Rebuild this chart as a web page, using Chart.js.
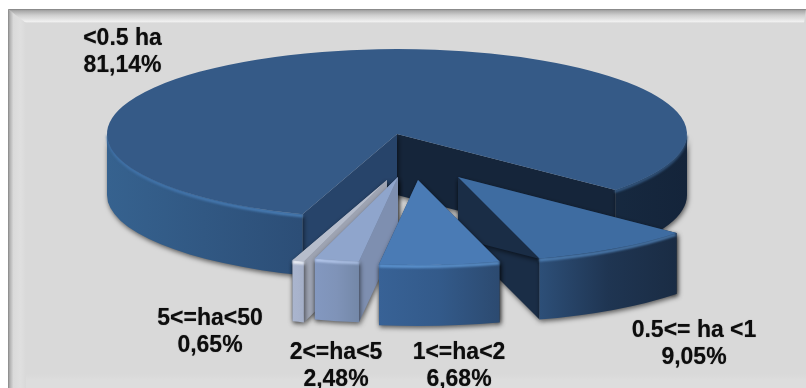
<!doctype html>
<html lang="en">

<head>
  <meta charset="utf-8">
  <title>Farms by size</title>
  <script src="https://cdn.jsdelivr.net/npm/chart.js"></script>
  <style>
    html, body { margin: 0; background: #fff; }
    canvas { display: block; }
  </style>
</head>

<body>
  <canvas id="pieChart" width="806" height="388" role="img" aria-label="Exploded 3D pie chart of holdings by size class"></canvas>

  <script>
    // === DATA ===
    const categories = ["<0.5 ha", "0.5<= ha <1", "1<=ha<2", "2<=ha<5", "5<=ha<50"];
    const shares = [81.14, 9.05, 6.68, 2.48, 0.65];

    // === STYLE: colours per slice ===
    const topColors = ["#355a87", "#3e6ca1", "#4a7bb5", "#8fa5cc", "#b6bdcc"];
    const rimColors = [["#36628f", "#2c4e77", "#1a3048", "#14243a"], ["#2d4f78", "#1f3552", "#1a2c44"], ["#386296", "#335a8a", "#2c4a70"], ["#8398c0", "#7f93b8", "#7488a8"], ["#aab5ce", "#a8b3cc", "#a4afc8"]];
    const bevelColors = [["#3f70a6", "#5088c2", "#2f4f75"], ["#4f80b5", "#4a78aa"], ["#5f98d6", "#5a8fc8"], ["#b9ccf0", "#a8bce0"], ["#ffffff", "#e8ecf4"]];
    const startWallColors = ["#27446a", "#1a2d46", "#2c4a70", "#7e8fb0", "#9ea4b3"];
    const endWallColors = ["#15253a", "#1a2d46", "#2c4a70", "#7e8fb0", "#9ea4b3"];

    // === STYLE: 3D projection ===
    const centerX = 397, centerY = 134;
    const radiusX = 290, radiusY = 85;
    const depth = 61;
    const explode = [[0, 0], [61, 43], [21, 46], [1, 43], [-10, 46]];
    const drawOrder = [0, 1, 4, 3, 2];
    const labelSpots = [[122.5, 45], [694, 337], [459, 359], [336, 359], [210, 325]];
    const lineGap = 27;

    function formatShare(value) {
      return value.toFixed(2).replace(".", ",") + "%";
    }

    // Panel behind the pie, with the bevelled top and left edges
    function drawPanel(ctx) {
      const w = 806, h = 388, left = 8, top = 9;
      ctx.fillStyle = "#ffffff";
      ctx.fillRect(0, 0, w, h);
      ctx.fillStyle = "#d9d9d9";
      ctx.fillRect(left, top, w - left, h - top);

      const bottomBand = ctx.createLinearGradient(0, 374, 0, 380);
      bottomBand.addColorStop(0, "#d9d9d9");
      bottomBand.addColorStop(1, "#dddddd");
      ctx.fillStyle = bottomBand;
      ctx.fillRect(left, 374, w - left, 14);

      const leftEdge = ctx.createLinearGradient(left, 0, left + 18, 0);
      leftEdge.addColorStop(0, "#858585");
      leftEdge.addColorStop(0.1, "#b0b0b0");
      leftEdge.addColorStop(0.3, "#dadada");
      leftEdge.addColorStop(0.7, "#dfdfdf");
      leftEdge.addColorStop(1, "#d9d9d9");
      ctx.fillStyle = leftEdge;
      ctx.beginPath();
      ctx.moveTo(left, top);
      ctx.lineTo(left + 18, top + 14);
      ctx.lineTo(left + 18, h);
      ctx.lineTo(left, h);
      ctx.closePath();
      ctx.fill();

      const topEdge = ctx.createLinearGradient(0, top, 0, top + 14);
      topEdge.addColorStop(0, "#7f7f7f");
      topEdge.addColorStop(0.12, "#a8a8a8");
      topEdge.addColorStop(0.45, "#cfcfcf");
      topEdge.addColorStop(0.9, "#f0f0f0");
      topEdge.addColorStop(1, "#d9d9d9");
      ctx.fillStyle = topEdge;
      ctx.beginPath();
      ctx.moveTo(left, top);
      ctx.lineTo(w, top);
      ctx.lineTo(w - 2, top + 14);
      ctx.lineTo(left + 18, top + 14);
      ctx.closePath();
      ctx.fill();
    }

    function horizontalGradient(ctx, x0, x1, colors) {
      const grad = ctx.createLinearGradient(x0, 0, x1, 0);
      colors.forEach((c, i) => grad.addColorStop(i / (colors.length - 1), c));
      return grad;
    }

    // Side wall from the tip of a slice to its outer edge at one angle
    function fillWall(ctx, x, y, angle, color) {
      const ox = x + Math.cos(angle) * radiusX;
      const oy = y + Math.sin(angle) * radiusY;
      ctx.fillStyle = color;
      ctx.beginPath();
      ctx.moveTo(x, y);
      ctx.lineTo(ox, oy);
      ctx.lineTo(ox, oy + depth);
      ctx.lineTo(x, y + depth);
      ctx.closePath();
      ctx.fill();
    }

    // Parts of an angle range that face the viewer (lower half of the ellipse)
    function frontRanges(start, end) {
      const ranges = [];
      for (let turn = -1; turn <= 2; turn++) {
        const a = Math.max(start, turn * 2 * Math.PI);
        const b = Math.min(end, turn * 2 * Math.PI + Math.PI);
        if (b > a) ranges.push([a, b]);
      }
      return ranges;
    }

    function drawSlice(ctx, arc, index) {
      const { startAngle, endAngle, outerRadius } = arc.getProps(["startAngle", "endAngle", "outerRadius"], true);
      const x = centerX + explode[index][0];
      const y = centerY + explode[index][1];
      const front = frontRanges(startAngle, endAngle);

      const xs = [];
      front.forEach(([a, b]) => {
        for (let t = a; t <= b; t += 0.01) xs.push(x + Math.cos(t) * radiusX);
        xs.push(x + Math.cos(b) * radiusX);
      });
      const minX = Math.min(...xs), maxX = Math.max(...xs);

      // Walls and rim carry the soft drop shadow
      ctx.save();
      ctx.shadowColor = "rgba(0,0,0,0.6)";
      ctx.shadowBlur = 5;
      ctx.shadowOffsetX = 1;
      ctx.shadowOffsetY = 2;
      fillWall(ctx, x, y, endAngle, endWallColors[index]);
      fillWall(ctx, x, y, startAngle, startWallColors[index]);

      ctx.fillStyle = horizontalGradient(ctx, minX, maxX, rimColors[index]);
      front.forEach(([a, b]) => {
        ctx.beginPath();
        ctx.ellipse(x, y, radiusX, radiusY, 0, a, b);
        ctx.ellipse(x, y + depth, radiusX, radiusY, 0, b, a, true);
        ctx.closePath();
        ctx.fill();
      });
      ctx.restore();

      // Light bevel along the outer edge of the top face
      ctx.save();
      ctx.filter = "blur(1px)";
      ctx.strokeStyle = horizontalGradient(ctx, minX, maxX, bevelColors[index]);
      ctx.lineWidth = 3;
      front.forEach(([a, b]) => {
        ctx.beginPath();
        ctx.ellipse(x, y + 1.5, radiusX - 1, radiusY, 0, a, b);
        ctx.stroke();
      });
      ctx.restore();

      // Top face is the library's own arc, squashed into an ellipse
      ctx.save();
      ctx.translate(x, y);
      ctx.scale(radiusX / outerRadius, radiusY / outerRadius);
      ctx.translate(-arc.x, -arc.y);
      arc.draw(ctx);
      ctx.restore();
    }

    const pie3d = {
      id: "pie3d",
      beforeDraw(chart) {
        drawPanel(chart.ctx);
      },
      beforeDatasetsDraw(chart) {
        const ctx = chart.ctx;
        const arcs = chart.getDatasetMeta(0).data;
        drawOrder.forEach(i => drawSlice(ctx, arcs[i], i));
        return false; // slices are already drawn
      },
      afterDraw(chart) {
        const ctx = chart.ctx;
        ctx.save();
        ctx.font = 'bold 23px "Liberation Sans", Arial, sans-serif';
        ctx.fillStyle = "#0d0d0d";
        ctx.shadowColor = "rgba(0,0,0,0.5)";
        ctx.shadowBlur = 1;
        ctx.textAlign = "center";
        ctx.textBaseline = "alphabetic";
        categories.forEach((name, i) => {
          ctx.fillText(name, labelSpots[i][0], labelSpots[i][1]);
          ctx.fillText(formatShare(shares[i]), labelSpots[i][0], labelSpots[i][1] + lineGap);
        });
        ctx.restore();
      }
    };

    // === CHART ===
    new Chart(document.getElementById("pieChart"), {
      type: "pie",
      data: {
        labels: categories,
        datasets: [{
          data: shares,
          backgroundColor: topColors,
          borderColor: topColors,
          borderWidth: 0
        }]
      },
      options: {
        responsive: false,
        animation: false,
        rotation: 199,
        plugins: {
          legend: { display: false },
          tooltip: { enabled: false }
        }
      },
      plugins: [pie3d]
    });
  </script>

</body>

</html>
